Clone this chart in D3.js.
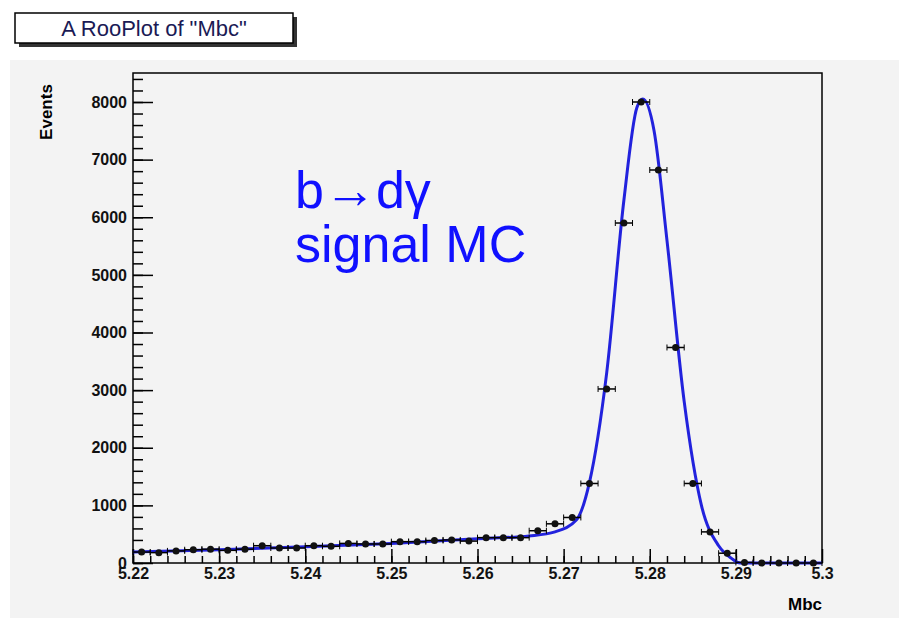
<!DOCTYPE html>
<html><head><meta charset="utf-8">
<script src="https://cdn.jsdelivr.net/npm/d3@7"></script>
<style>body{margin:0;background:#fff}svg{font-family:"Liberation Sans",Arial,sans-serif}</style>
</head><body>
<svg id="c" width="899" height="618"></svg>
<script>
// binned data, bin width 0.002
var binCenters = d3.range(40).map(function(i){ return +(5.221 + i*0.002).toFixed(3) })
var counts = [190,180,210,230,240,220,240,300,260,260,300,290,340,330,330,370,370,390,400,380,
              440,440,440,560,680,790,1380,3020,5900,8000,6820,3740,1380,540,170,10,0,0,0,0]
var fitX = [5.22,5.23,5.24,5.25,5.26,5.266,5.269,5.2715,5.273,5.275,5.277,5.2785,5.2792,5.2805,5.282,5.284,5.286,5.288,5.2895,5.2905,5.3]
var fitY = [190,230,280,340,420,470,540,750,1400,3300,6300,7900,8050,7500,5600,2800,1000,300,80,0,0]
var yTicks = [0,1000,2000,3000,4000,5000,6000,7000,8000]
var xTicks = [5.22,5.23,5.24,5.25,5.26,5.27,5.28,5.29,5.3]

var svg = d3.select("#c")
svg.append("rect").attr("x",10).attr("y",60).attr("width",889).attr("height",558).attr("fill","#f3f3f3")

var x = d3.scaleLinear().domain([5.22,5.3]).range([133,822])
var y = d3.scaleLinear().domain([0,8000]).range([563,102])

svg.append("rect").attr("x",133).attr("y",73).attr("width",689).attr("height",490)
  .attr("fill","#f3f3f3").attr("stroke","#000").attr("stroke-width",1.5)

svg.append("g").attr("transform","translate(0,563)")
  .call(d3.axisBottom(x).tickValues(xTicks).tickFormat(function(d){ return d==5.3 ? "5.3" : d3.format(".2f")(d) }).tickSize(-14).tickPadding(5))
svg.append("g").attr("transform","translate(0,563)")
  .call(d3.axisBottom(x).tickValues(d3.range(40).map(function(i){ return 5.22+i*0.002 })).tickFormat("").tickSize(-7))
svg.append("g").attr("transform","translate(133,0)")
  .call(d3.axisLeft(y).tickValues(yTicks).tickFormat(d3.format("d")).tickSize(-20).tickPadding(6))
svg.append("g").attr("transform","translate(133,0)")
  .call(d3.axisLeft(y).tickValues(d3.range(0,8401,200)).tickFormat("").tickSize(-10))
svg.selectAll(".domain").remove()
svg.selectAll(".tick line").attr("stroke","#000").attr("stroke-width",1.5)
svg.selectAll(".tick text").attr("font-size",16).attr("font-weight","bold").attr("fill","#111")

// fit curve
svg.append("path").datum(fitX.map(function(v,i){ return [v,fitY[i]] }))
  .attr("d", d3.line().x(function(d){return x(d[0])}).y(function(d){return y(d[1])}).curve(d3.curveMonotoneX))
  .attr("fill","none").attr("stroke","#2222dd").attr("stroke-width",3)

// points with x error bars
var pts = svg.append("g")
binCenters.forEach(function(c,i){
  pts.append("line").attr("x1",x(c-0.001)).attr("x2",x(c+0.001)).attr("y1",y(counts[i])).attr("y2",y(counts[i]))
    .attr("stroke","#000").attr("stroke-width",1.5)
  pts.append("line").attr("x1",x(c-0.001)).attr("x2",x(c-0.001)).attr("y1",y(counts[i])-3).attr("y2",y(counts[i])+3).attr("stroke","#000")
  pts.append("line").attr("x1",x(c+0.001)).attr("x2",x(c+0.001)).attr("y1",y(counts[i])-3).attr("y2",y(counts[i])+3).attr("stroke","#000")
  pts.append("circle").attr("cx",x(c)).attr("cy",y(counts[i])).attr("r",3.5).attr("fill","#111")
})

// title box
svg.append("rect").attr("x",19).attr("y",17).attr("width",278).attr("height",30).attr("fill","#333")
svg.append("rect").attr("x",15).attr("y",13).attr("width",278).attr("height",30).attr("fill","#fff").attr("stroke","#000").attr("stroke-width",1.5)
svg.append("text").attr("x",154).attr("y",36).attr("text-anchor","middle").attr("font-size",22).attr("fill","#1a1a55").text('A RooPlot of "Mbc"')

svg.append("text").attr("transform","translate(52,112) rotate(-90)").attr("text-anchor","middle")
  .attr("font-size",17).attr("font-weight","bold").text("Events")
svg.append("text").attr("x",822).attr("y",610).attr("text-anchor","end").attr("font-size",17).attr("font-weight","bold").text("Mbc")

svg.append("text").attr("x",295).attr("y",208).attr("font-size",52).attr("fill","#1010ff").text("b→dγ")
svg.append("text").attr("x",295).attr("y",262).attr("font-size",52).attr("fill","#1010ff").text("signal MC")
</script>
</body></html>
